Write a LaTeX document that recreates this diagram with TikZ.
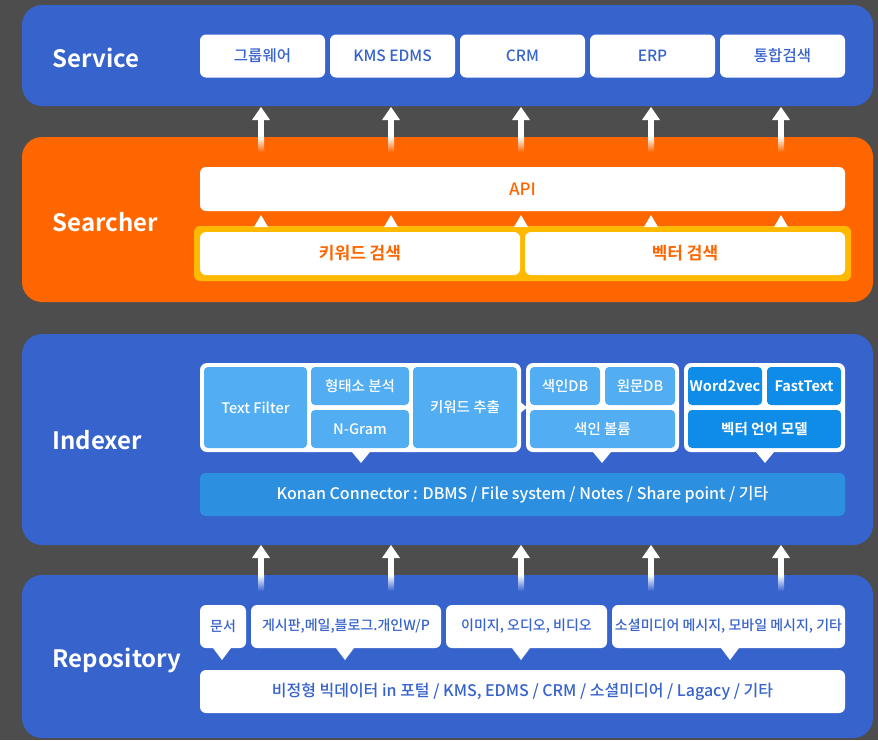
\documentclass[tikz,border=0pt]{standalone}
\usepackage{fontspec}
\setmainfont{Noto Sans CJK KR}[UprightFont=* Medium, BoldFont=* Bold]
\usetikzlibrary{positioning, calc}

\definecolor{bgdark}{HTML}{4D4D4D}
\definecolor{panelblue}{HTML}{3763CC}
\definecolor{srchorange}{HTML}{FF6600}
\definecolor{frameyellow}{HTML}{FFB900}
\definecolor{lightblue}{HTML}{52ADF2}
\definecolor{vecblue}{HTML}{0F8BE8}
\definecolor{konanblue}{HTML}{2D8FE0}

\begin{document}
\begin{tikzpicture}[
    x=1pt, y=-1pt,
    node distance=5pt and 5pt,
    panel/.style={rounded corners=20pt},
    layertitle/.style={anchor=west, text=white, font=\fontsize{24}{28}\selectfont\bfseries},
    basebox/.style={
        rectangle,
        inner sep=0pt,
        outer sep=0pt,
        align=center
    },
    whitebox/.style={basebox, fill=white, rounded corners=6pt, minimum height=43pt},
    svcbox/.style={whitebox, minimum width=125pt, text=panelblue, font=\fontsize{15.5}{18}\selectfont},
    srchbox/.style={whitebox, minimum width=320pt, text=srchorange, font=\fontsize{17}{20}\selectfont\bfseries},
    groupbox/.style={basebox, fill=white, rounded corners=7pt, minimum height=89pt},
    idxbox/.style={basebox, fill=lightblue, rounded corners=4pt, text=white, font=\fontsize{14.5}{17}\selectfont},
    vecbox/.style={idxbox, fill=vecblue, font=\fontsize{14.5}{17}\selectfont\bfseries},
    repobox/.style={whitebox, text=panelblue, font=\fontsize{14}{17}\selectfont},
    pointer/.style={fill=white}
]
    % background and layers
    \fill[bgdark] (0,0) rectangle (878,740);
    \fill[panelblue, panel] (22,5) rectangle (873,106);
    \fill[srchorange, panel] (22,137) rectangle (873,302);
    \fill[panelblue, panel] (22,334) rectangle (873,545);
    \fill[panelblue, panel] (22,575) rectangle (873,738);

    \node[layertitle] (tsvc) at (49,58) {Service};
    \node[layertitle] (tsrch) at (49,222) {Searcher};
    \node[layertitle] (tidx) at (49,440) {Indexer};
    \node[layertitle] (trepo) at (49,660) {Repository};

    % Service
    \node[svcbox] (sv1) at (262.5,56) {그룹웨어};
    \node[svcbox, right=of sv1] (sv2) {KMS EDMS};
    \node[svcbox, right=of sv2] (sv3) {CRM};
    \node[svcbox, right=of sv3] (sv4) {ERP};
    \node[svcbox, right=of sv4] (sv5) {통합검색};

    % Searcher
    \node[whitebox, minimum width=645pt, minimum height=44pt, text=srchorange,
          font=\fontsize{17}{20}\selectfont] (api) at (522.5,189) {API};
    \node[basebox, fill=frameyellow, rounded corners=6pt,
          minimum width=657pt, minimum height=55pt] (frame) at (522.5,253.5) {};
    \node[srchbox] (kwsrch) at (360,253.5) {키워드 검색};
    \node[srchbox, right=of kwsrch] (vecsrch) {벡터 검색};

    % Indexer
    \node[groupbox, minimum width=321pt] (grp1) at (360.5,407.5) {};
    \node[idxbox, minimum width=103pt, minimum height=81pt] (tfilter) at (255.5,407.5) {Text Filter};
    \node[idxbox, minimum width=98pt, minimum height=38pt] (morph) at (360,386) {형태소 분석};
    \node[idxbox, minimum width=98pt, minimum height=38pt] (ngram) at (360,429) {N-Gram};
    \node[idxbox, minimum width=104pt, minimum height=81pt] (kwext) at (465,407.5) {키워드 추출};

    \node[groupbox, minimum width=153pt] (grp2) at (602.5,407.5) {};
    \node[idxbox, minimum width=70pt, minimum height=38pt] (idxdb) at (565,386) {색인DB};
    \node[idxbox, minimum width=70pt, minimum height=38pt] (rawdb) at (640,386) {원문DB};
    \node[idxbox, minimum width=145pt, minimum height=38pt] (idxvol) at (602.5,429) {색인 볼륨};

    \node[groupbox, minimum width=161pt] (grp3) at (764.5,407.5) {};
    \node[vecbox, minimum width=74pt, minimum height=38pt] (w2v) at (725,386) {Word2vec};
    \node[vecbox, minimum width=74pt, minimum height=38pt] (ftext) at (804,386) {FastText};
    \node[vecbox, minimum width=153pt, minimum height=38pt] (vlm) at (764.5,429) {벡터 언어 모델};

    \node[basebox, fill=konanblue, rounded corners=5pt, minimum width=645pt, minimum height=43pt,
          text=white, font=\fontsize{16}{19}\selectfont] (konan) at (522.5,494.5)
          {Konan Connector : DBMS / File system / Notes / Share point / 기타};

    % Repository
    \node[repobox, minimum width=46pt] (rdoc) at (223,626.5) {문서};
    \node[repobox, minimum width=190pt, right=of rdoc] (rboard) {게시판,메일,블로그.개인W/P};
    \node[repobox, minimum width=161pt, right=of rboard] (rmedia) {이미지, 오디오, 비디오};
    \node[repobox, minimum width=233pt, right=of rmedia] (rsocial) {소셜미디어 메시지, 모바일 메시지, 기타};
    \node[whitebox, minimum width=645pt, text=panelblue, font=\fontsize{16}{19}\selectfont]
          (bigdata) at (522.5,691.5) {비정형 빅데이터 in 포털 / KMS, EDMS / CRM / 소셜미디어 / Lagacy / 기타};

    % pointers
    \foreach \x in {261,391,521,651,781}
        \fill[pointer] (\x-7,227) -- (\x,215) -- (\x+7,227) -- cycle;
    \fill[pointer] ([yshift=5pt]grp1.east) -- ([xshift=6pt]grp1.east) -- ([yshift=-5pt]grp1.east) -- cycle;
    \foreach \g/\dx in {grp1/0.5,grp2/-0.5,grp3/0.5}
        \fill[pointer] ([xshift=\dx pt-9pt]\g.south) -- ([xshift=\dx pt+9pt]\g.south)
            -- ([xshift=\dx pt, yshift=-11pt]\g.south) -- cycle;
    \foreach \b/\dx in {rdoc/-1,rboard/-1,rmedia/-5.5,rsocial/1.5}
        \fill[pointer] ([xshift=\dx pt-9pt]\b.south) -- ([xshift=\dx pt+9pt]\b.south)
            -- ([xshift=\dx pt, yshift=-12pt]\b.south) -- cycle;

    % arrows between layers
    \foreach \x [count=\i] in {261,391,521,651,781} {
        \coordinate (stip\i) at (\x,107);
        \coordinate (rtip\i) at (\x,545);
        \fill[white] ($(stip\i)+(-9,13)$) -- (stip\i) -- ($(stip\i)+(9,13)$) -- cycle;
        \fill[white] ($(stip\i)+(-3,12)$) rectangle ($(stip\i)+(3,30)$);
        \shade[top color=white, bottom color=srchorange] ($(stip\i)+(-3,30)$) rectangle ($(stip\i)+(3,45)$);
        \fill[white] ($(rtip\i)+(-9,13)$) -- (rtip\i) -- ($(rtip\i)+(9,13)$) -- cycle;
        \fill[white] ($(rtip\i)+(-3,12)$) rectangle ($(rtip\i)+(3,30)$);
        \shade[top color=white, bottom color=panelblue] ($(rtip\i)+(-3,30)$) rectangle ($(rtip\i)+(3,46)$);
    }
\end{tikzpicture}
\end{document}
